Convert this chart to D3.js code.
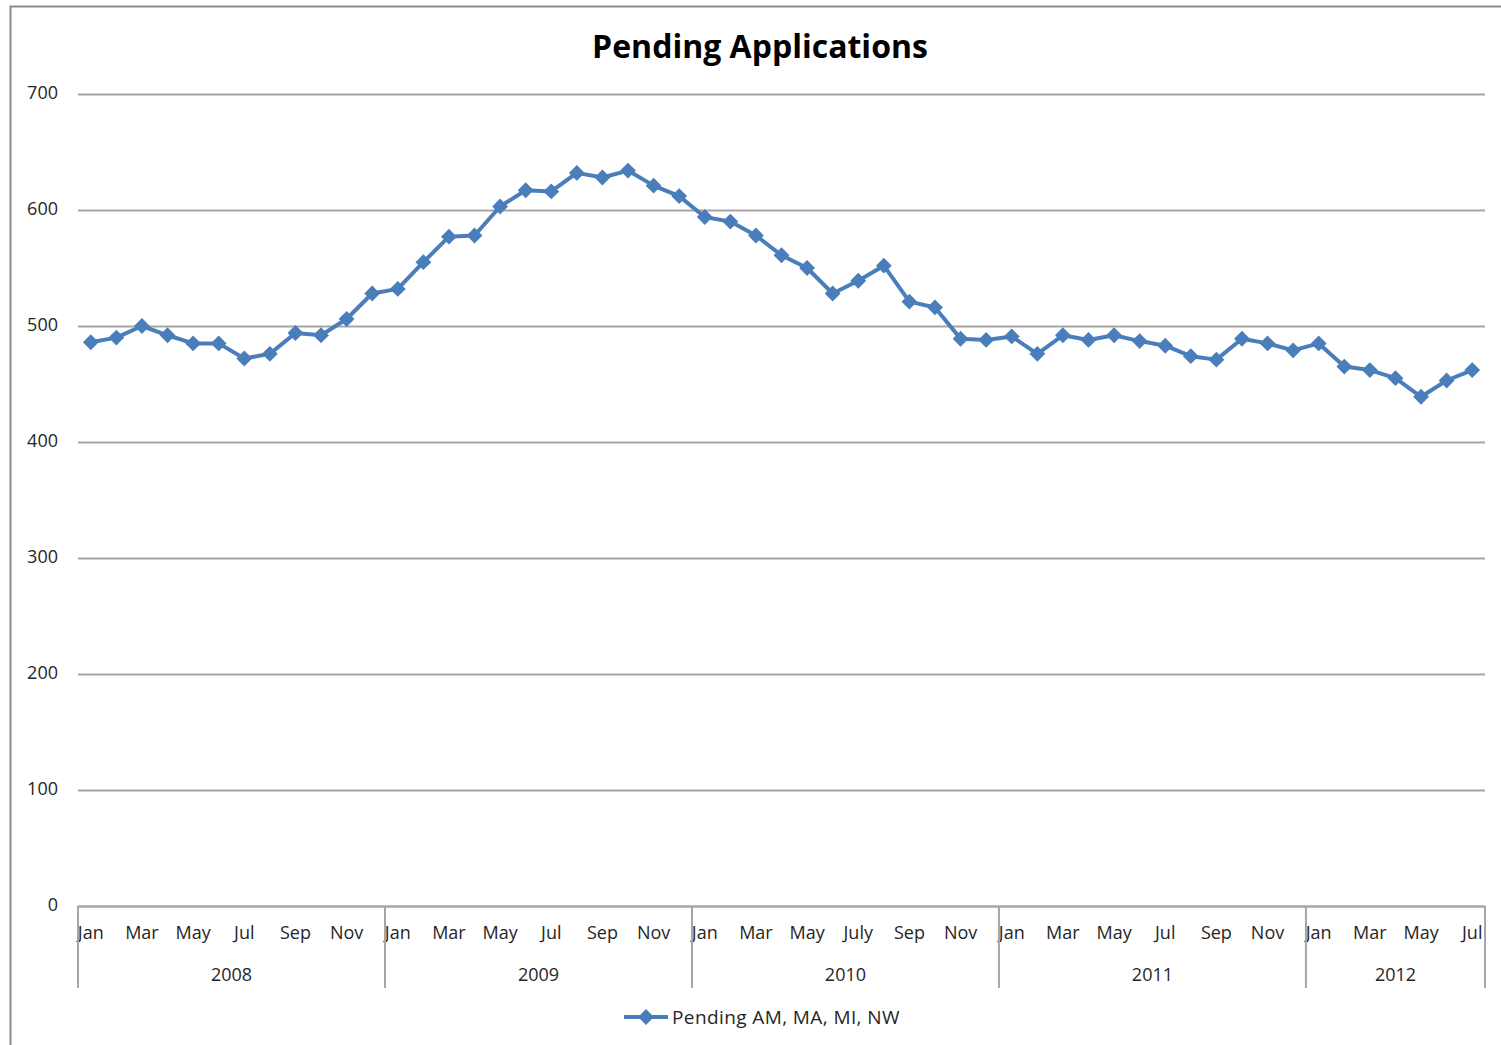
<!DOCTYPE html>
<html>
<head>
<meta charset="utf-8">
<script src="https://cdn.jsdelivr.net/npm/d3@7"></script>
<style>
  body { margin: 0; background: #fff; }
  svg text { font-family: "Open Sans", Lato, sans-serif; fill: #262626; }
</style>
</head>
<body>
<div id="root"></div>
<script>
const width = 1501;
const height = 1045;

// data
const years = ["2008", "2009", "2010", "2011", "2012"];
const monthLabels = ["Jan", "", "Mar", "", "May", "", "Jul", "", "Sep", "", "Nov", ""];
const monthLabels2010 = ["Jan", "", "Mar", "", "May", "", "July", "", "Sep", "", "Nov", ""];
const values2008 = [486, 490, 500, 492, 485, 485, 472, 476, 494, 492, 506, 528];
const values2009 = [532, 555, 577, 578, 603, 617, 616, 632, 628, 634, 621, 612];
const values2010 = [594, 590, 578, 561, 550, 528, 539, 552, 521, 516, 489, 488];
const values2011 = [491, 476, 492, 488, 492, 487, 483, 474, 471, 489, 485, 479];
const values2012 = [485, 465, 462, 455, 439, 453, 462];
const yTicks = [0, 100, 200, 300, 400, 500, 600, 700];
const seriesName = "Pending AM, MA, MI, NW";

const yearValues = [values2008, values2009, values2010, values2011, values2012];

let points = [];
yearValues.forEach(function (vals, yi) {
  vals.forEach(function (v, mi) {
    let labels = years[yi] === "2010" ? monthLabels2010 : monthLabels;
    points.push({ year: years[yi], month: mi, label: labels[mi], value: v });
  });
});

const blue = "#4a7ebb";
const gridColor = "#a6a6a6";

let svg = d3
  .select("#root")
  .append("svg")
  .attr("width", width)
  .attr("height", height);

// chart frame
svg
  .append("rect")
  .attr("x", 10.5)
  .attr("y", 6.5)
  .attr("width", 1520)
  .attr("height", 1080)
  .attr("fill", "none")
  .attr("stroke", "#8c8c8c")
  .attr("stroke-width", 2);

svg
  .append("text")
  .attr("x", 760)
  .attr("y", 58)
  .attr("text-anchor", "middle")
  .style("font-size", "32px")
  .style("font-weight", "bold")
  .style("fill", "#000")
  .text("Pending Applications");

let xScale = d3
  .scaleBand()
  .domain(d3.range(points.length))
  .range([78, 1485])
  .padding(0);

let yScale = d3.scaleLinear().domain([0, 700]).range([906, 94]);

// gridlines + y labels
let yAxis = d3
  .axisLeft(yScale)
  .tickValues(yTicks)
  .tickSize(-(1485 - 78))
  .tickPadding(20);

let yG = svg
  .append("g")
  .attr("transform", "translate(78, 0)")
  .call(yAxis);
yG.select(".domain").remove();
yG.selectAll(".tick line")
  .attr("stroke", gridColor)
  .attr("stroke-width", 2);
yG.selectAll(".tick text")
  .style("font-size", "18px")
  .attr("dy", "0.25em");

// month axis
let xAxis = d3
  .axisBottom(xScale)
  .tickSize(0)
  .tickPadding(20)
  .tickFormat(function (i) {
    return points[i].label;
  });

let xG = svg
  .append("g")
  .attr("transform", "translate(0, 906)")
  .call(xAxis);
xG.select(".domain")
  .attr("stroke", gridColor)
  .attr("stroke-width", 2);
xG.selectAll(".tick text").style("font-size", "18px");

// year groups
let yearStarts = years.map(function (y) {
  return points.findIndex(function (p) {
    return p.year === y;
  });
});

let bounds = yearStarts.map(function (i) {
  return xScale(i);
});
bounds.push(xScale.range()[1]);

svg
  .selectAll(".year-divider")
  .data(bounds)
  .enter()
  .append("line")
  .attr("class", "year-divider")
  .attr("x1", (d) => d)
  .attr("x2", (d) => d)
  .attr("y1", 906)
  .attr("y2", 988)
  .attr("stroke", gridColor)
  .attr("stroke-width", 2);

svg
  .selectAll(".year-label")
  .data(years)
  .enter()
  .append("text")
  .attr("class", "year-label")
  .attr("x", (d, i) => (bounds[i] + bounds[i + 1]) / 2)
  .attr("y", 981)
  .attr("text-anchor", "middle")
  .style("font-size", "18px")
  .text((d) => d);

// series
let cx = function (d, i) {
  return xScale(i) + xScale.bandwidth() / 2;
};

let line = d3
  .line()
  .x(cx)
  .y((d) => yScale(d.value));

svg
  .append("path")
  .datum(points)
  .attr("d", line)
  .attr("fill", "none")
  .attr("stroke", blue)
  .attr("stroke-width", 4)
  .attr("stroke-linejoin", "round");

let diamond = d3.symbol().type(d3.symbolDiamond2).size(160);

svg
  .selectAll(".marker")
  .data(points)
  .enter()
  .append("path")
  .attr("class", "marker")
  .attr("d", diamond)
  .attr("transform", function (d, i) {
    return "translate(" + cx(d, i) + "," + yScale(d.value) + ")";
  })
  .attr("fill", blue);

// legend
let legend = svg.append("g").attr("transform", "translate(624, 1017)");
legend
  .append("line")
  .attr("x1", 0)
  .attr("x2", 44)
  .attr("stroke", blue)
  .attr("stroke-width", 4);
legend.append("path").attr("d", diamond).attr("transform", "translate(22,0)").attr("fill", blue);
legend
  .append("text")
  .attr("x", 48)
  .attr("y", 7)
  .style("font-size", "19px")
  .style("letter-spacing", "0.4px")
  .text(seriesName);
</script>
</body>
</html>
